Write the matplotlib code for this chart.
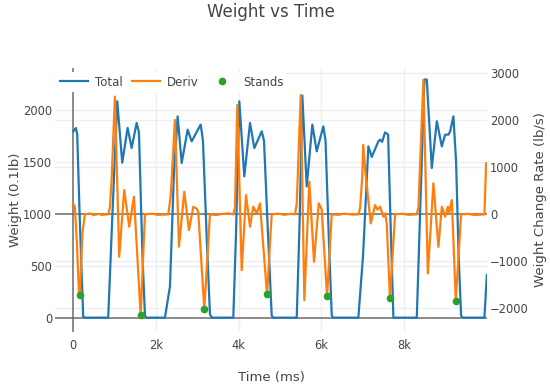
import matplotlib
matplotlib.use('Agg')
import matplotlib.pyplot as plt
from matplotlib.transforms import blended_transform_factory

# Total weight (0.1 lb) vs time (ms)
total_t = [0, 65, 97, 162, 242, 283, 846, 948, 1064, 1185, 1315, 1412, 1533, 1589, 1673, 1734, 1770,
           2217, 2338, 2435, 2524, 2621, 2766, 2863, 3081, 3136, 3233, 3305, 3354,
           3869, 3934, 4014, 4135, 4273, 4377, 4556, 4611, 4708, 4797, 4829,
           5402, 5470, 5537, 5643, 5779, 5885, 6045, 6098, 6183, 6248, 6280,
           6891, 7005, 7133, 7215, 7375, 7416, 7465, 7537, 7610, 7670, 7738,
           8303, 8383, 8487, 8545, 8666, 8787, 8908, 8988, 9068, 9109, 9188, 9253, 9314, 9374, 9411,
           9938, 9996]
total_w = [1790, 1823, 1760, 900, 10, 0, 0, 1000, 2080, 1490, 1824, 1631, 1872, 1780, 600, 20, 0,
           0, 300, 1400, 1935, 1487, 1807, 1695, 1856, 1700, 700, 30, 0,
           0, 800, 2080, 1358, 1872, 1631, 1791, 1700, 800, 20, 0,
           0, 900, 2135, 1261, 1856, 1599, 1839, 1700, 700, 20, 0,
           0, 600, 1647, 1545, 1695, 1711, 1690, 1781, 1760, 900, 0,
           0, 1000, 2289, 2289, 1439, 1888, 1647, 1759, 1760, 1791, 1935, 1500, 600, 20, 0,
           0, 411]

# Weight change rate (lb/s)
deriv_t = [0, 41, 89, 138, 162, 222, 283, 400, 500, 600, 700, 846,
           887, 928, 1008, 1112, 1233, 1354, 1468, 1630, 1734, 1900, 2050, 2297,
           2355, 2459, 2556, 2684, 2798, 2902, 2984, 3022, 3168, 3305, 3450, 3600, 3750, 3869,
           3910, 3966, 4072, 4176, 4273, 4352, 4435, 4514, 4684, 4797, 4950, 5100, 5250, 5361,
           5402, 5498, 5586, 5706, 5820, 5934, 6006, 6135, 6248, 6400, 6550, 6750, 6891,
           6932, 6985, 7010, 7060, 7191, 7295, 7351, 7416, 7496, 7537, 7578, 7655, 7779, 7950, 8100, 8303,
           8342, 8463, 8570, 8705, 8826, 8908, 8988, 9053, 9084, 9150, 9245, 9374, 9550, 9700, 9938,
           9979]
deriv_r = [230, 150, -600, -1681, -1711, -400, 0, 20, -15, 10, -10, 0,
           150, 730, 2502, -902, 517, -264, 375, -2136, 0, 15, -10, 0,
           375, 2006, -689, 481, -334, 162, 120, 50, -2015, 0, -15, 10, 20, 0,
           150, 2326, -1185, 411, -264, 162, 20, 230, -1702, 0, 15, -10, 10, 0,
           230, 2538, -1823, 695, -1008, 234, 100, -1740, 0, -10, 15, -5, 0,
           130, 801, 1474, 907, -192, 198, 100, 162, -50, 20, -200, -1787, 0, 15, -10, 0,
           150, 2857, -1255, 660, -689, 162, -50, 162, 20, 304, -1838, 0, 10, -15, 0,
           1085]

# Stands (plotted on the rate axis)
stand_t = [162, 1637, 3168, 4684, 6128, 7659, 9255]
stand_r = [-1711, -2136, -2015, -1702, -1732, -1787, -1838]

left_ticks = [0, 500, 1000, 1500, 2000]
right_ticks = [-2000, -1000, 0, 1000, 2000, 3000]
x_ticks = [0, 2000, 4000, 6000, 8000]
x_labels = ['0', '2k', '4k', '6k', '8k']

text_col = '#444444'
grid_col = '#ebeef2'
zero_col = '#6b6b6b'

plt.rcParams['font.family'] = 'DejaVu Sans'

fig = plt.figure(figsize=(5.5, 3.91), dpi=100)
ax = fig.add_axes([55 / 550, 1 - 332 / 391, 432 / 550, (332 - 68) / 391])
ax2 = ax.twinx()

ax.set_xlim(-440, 10000)
ax.set_ylim(-138, 2400)
ax2.set_ylim(-2500, 3110)

for a in (ax, ax2):
    for s in a.spines.values():
        s.set_visible(False)
    a.tick_params(length=0, labelsize=8.3, colors=text_col)

ax.set_xticks(x_ticks)
ax.set_xticklabels(x_labels)
ax.set_yticks(left_ticks)
ax2.set_yticks(right_ticks)
ax2.set_yticklabels([f'{v}'.replace('-', '\u2212') for v in right_ticks])
ax.tick_params(axis='x', pad=5)
ax.tick_params(axis='y', pad=2)
ax2.tick_params(axis='y', pad=2)

# gridlines, all drawn on the bottom axes so traces sit above them
for v in x_ticks[1:]:
    ax.axvline(v, color=grid_col, lw=1, zorder=0)
for v in left_ticks[1:]:
    ax.axhline(v, color=grid_col, lw=1, zorder=0)
rtrans = blended_transform_factory(ax.transAxes, ax2.transData)
for v in right_ticks:
    if v != 0:
        ax.plot([0, 1], [v, v], color=grid_col, lw=1, transform=rtrans, zorder=0)
ax.axhline(0, color=zero_col, lw=1.1, zorder=1)
ax.axvline(0, color=zero_col, lw=1.1, zorder=1)
ax.plot([0, 1], [0, 0], color=zero_col, lw=1.1, transform=rtrans, zorder=1)

l1, = ax.plot(total_t, total_w, color='#1f77b4', lw=1.6, label='Total', zorder=2)
l2, = ax2.plot(deriv_t, deriv_r, color='#ff7f0e', lw=1.6, label='Deriv', zorder=2)
l3, = ax2.plot(stand_t, stand_r, 'o', color='#2ca02c', ms=4.5, label='Stands', zorder=3)

leg = ax2.legend(handles=[l1, l2, l3], loc='upper left', bbox_to_anchor=(56 / 550, 1 - 72 / 391),
                 bbox_transform=fig.transFigure, ncol=3, fontsize=8.5, frameon=True,
                 framealpha=1, edgecolor='none', handlelength=2.4, handletextpad=0.6,
                 columnspacing=0.75, borderpad=0.3, borderaxespad=0)
for t in leg.get_texts():
    t.set_color(text_col)

ax.set_ylabel('Weight (0.1lb)', fontsize=9.5, color=text_col, labelpad=1)
ax2.set_ylabel('Weight Change Rate (lb/s)', fontsize=9.5, color=text_col, labelpad=4)
ax.set_xlabel('Time (ms)', fontsize=9.5, color=text_col, labelpad=14)
fig.text(271 / 550, 1 - 12 / 391, 'Weight vs Time', ha='center', va='center', fontsize=12, color=text_col)

fig.savefig('out.png', dpi=100)
